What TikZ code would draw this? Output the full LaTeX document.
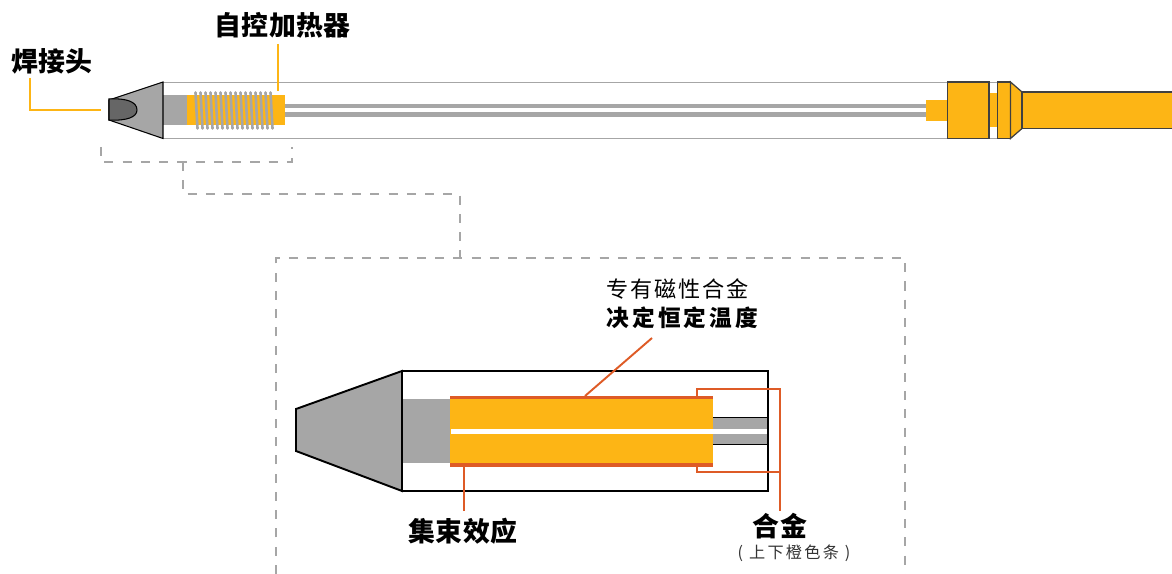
\documentclass[tikz,border=0pt]{standalone}
\usepackage{fontspec}
\setmainfont{Noto Sans CJK SC}
\newfontfamily\cjkbig[LetterSpace=2]{Noto Sans CJK SC}
\newfontfamily\cjkmid[LetterSpace=9]{Noto Sans CJK SC}
\newfontfamily\cjkwide[LetterSpace=14]{Noto Sans CJK SC}
\newfontfamily\cjksmall[LetterSpace=14]{Noto Sans CJK SC}
\usetikzlibrary{calc}
\definecolor{goldbar}{HTML}{FDB515}
\definecolor{rodgrey}{HTML}{A6A6A6}
\definecolor{tipgrey}{HTML}{666666}
\definecolor{alloyred}{HTML}{DE5B26}
\tikzset{
 biglabel/.style={inner sep=0, font=\fontsize{15.3}{18}\selectfont\cjkbig\bfseries},
 midlabel/.style={inner sep=0, anchor=west, font=\fontsize{12.6}{15}\selectfont\cjkmid},
 goldlead/.style={goldbar, line width=1.2pt},
 redlead/.style={alloyred, line width=1.1pt},
 greydash/.style={rodgrey, line width=1.2pt, dash pattern=on 5.2pt off 5.2pt},
 inkline/.style={draw=black, line width=1.1pt},
 capline/.style={draw=black!75, line width=.7pt},
}
\begin{document}
\begin{tikzpicture} [x=0.02cm, y=-0.02cm]
\useasboundingbox (0,0) rectangle (1172,574);
% upper tool
\draw[rodgrey, line width=.6pt] (163,82.5) -- (997,82.5) (163,138.5) -- (997,138.5);
\fill[rodgrey] (163,95) rectangle (187,125);
\fill[rodgrey] (285,104) rectangle (926,108.5);
\fill[rodgrey] (285,112.5) rectangle (926,117);
\fill[goldbar] (187,95) rectangle (285,125);
\foreach \x in {0,...,15} {
 \draw[rodgrey, line width=1.5pt, line cap=round] (195.5+\x*5,92.5) --++(2,36);
}
\filldraw[fill=rodgrey, draw=black, line width=.6pt] (109,100) -- (163,82) -- (163,138.5) -- (109,120) -- cycle;
\filldraw[fill=tipgrey, draw=black, line width=.6pt] (109,99) .. controls (127,98) and (137,102) .. (137,110) .. controls (137,117) and (127,121) .. (109,120) -- cycle;
\fill[goldbar] (926,100) rectangle (947,121);
\fill[goldbar] (989,93) rectangle (998,127);
\filldraw[fill=goldbar, capline] (947.5,82) rectangle (989,138.5);
\filldraw[fill=goldbar, capline] (997.5,82) rectangle (1010.5,138.5);
\filldraw[fill=goldbar, capline] (1010.5,82) -- (1022,92) -- (1022,128.5) -- (1010.5,138.5) -- cycle;
\fill[goldbar] (1022,92) rectangle (1172,128.5);
\draw[capline] (1172,92) -- (1022,92) -- (1022,128.5) -- (1172,128.5);
% dashed zoom guide
\coordinate (guideL) at (101,147);
\coordinate (guideR) at (292,147);
\coordinate (guideM) at (183,162);
\coordinate (boxtop) at (460,258);
\coordinate (boxL) at (276,574);
\coordinate (boxR) at (905,574);
\draw[greydash] (guideL) |- (guideR |- guideM) -- (guideR);
\draw[greydash] (guideM) |- (boxtop |- 0,194) -- (boxtop);
\draw[greydash] (boxL) |- (boxR |- boxtop) -- (boxR);
% lower tool
\filldraw[fill=rodgrey, inkline] (296,409) -- (402,371) -- (402,491) -- (296,451) -- cycle;
\draw[inkline] (402,371) rectangle (768,491);
\fill[rodgrey] (403,399) rectangle (450,463);
\fill[rodgrey] (713,417.5) rectangle (767,429);
\fill[rodgrey] (713,434) rectangle (767,444.5);
\draw[inkline] (713,417.5) -- (768,417.5) (713,444.5) -- (768,444.5);
\fill[goldbar] (450,399) rectangle (713,463);
\fill[white] (451,429) rectangle (767,434);
\fill[alloyred] (450,395.5) rectangle (713,399);
\fill[alloyred] (450,463) rectangle (713,466.5);
% labels
\node[biglabel] (tiplabel) at (52,61) {焊接头};
\node[biglabel] (heaterlabel) at (282.5,25) {自控加热器};
\node[midlabel] (alloylabel) at (606,289) {专有磁性合金};
\node[midlabel, font=\fontsize{12.9}{15}\selectfont\cjkwide\bfseries] (templabel) at (606,318) {决定恒定温度};
\node[biglabel] (skinlabel) at (463,531) {集束效应};
\node[biglabel] (barlabel) at (780,526) {合金};
\node[inner sep=0, font=\fontsize{9.2}{11}\selectfont\cjksmall, black!80] (barnote) at (794,553) {( 上下橙色条 )};
% leads
\coordinate (tiplead) at (30,78);
\coordinate (tipend) at (101,110);
\coordinate (heaterlead) at (278,44);
\coordinate (heaterend) at (278,91);
\coordinate (templead) at (652,338);
\coordinate (tempend) at (585,396);
\coordinate (skinlead) at (464,511);
\coordinate (skinend) at (464,466);
\coordinate (barlead) at (780,511);
\coordinate (barup) at (697,396);
\coordinate (bardown) at (697,466);
\draw[goldlead] (tiplead) |- (tipend);
\draw[goldlead] (heaterlead) -- (heaterend);
\draw[redlead] (templead) -- (tempend);
\draw[redlead] (skinlead) -- (skinend);
\draw[redlead] (barup) |- (780,389) -- (barlead);
\draw[redlead] (bardown) |- (780,472);
\end{tikzpicture}
\end{document}
